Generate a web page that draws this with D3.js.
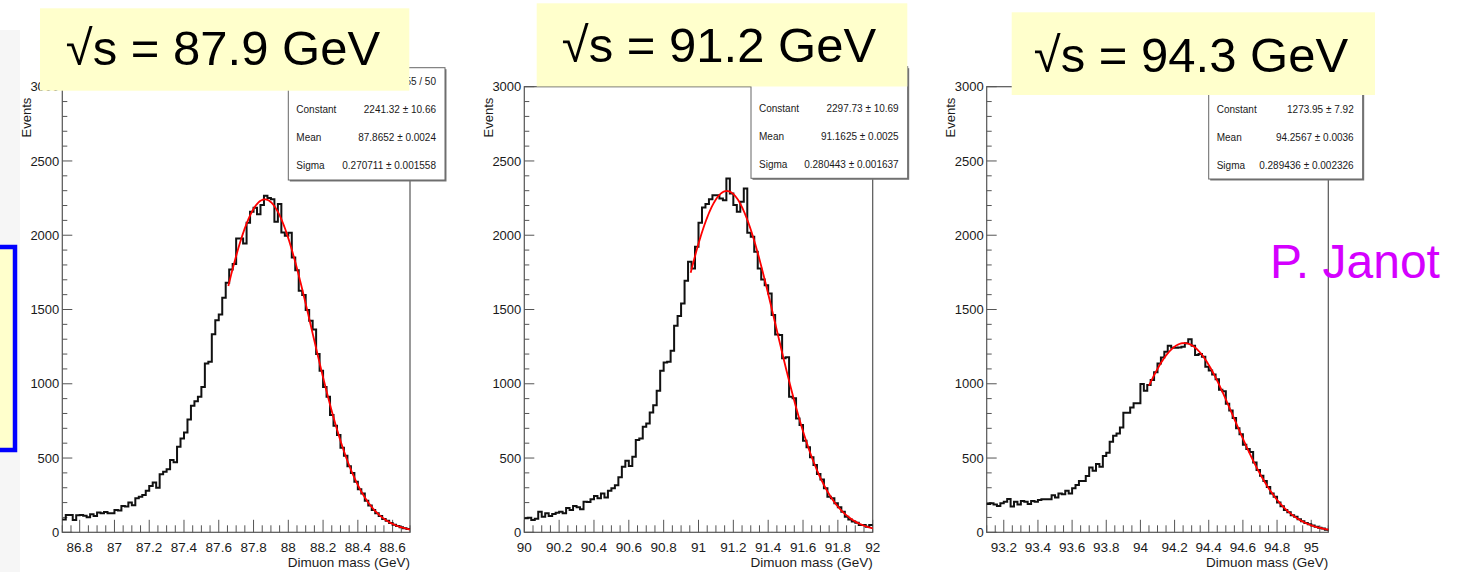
<!DOCTYPE html>
<html><head><meta charset="utf-8">
<script src="https://cdn.jsdelivr.net/npm/d3@7"></script>
<style>
body{margin:0;background:#fff}
svg{display:block}
text{font-family:"Liberation Sans",Arial,Helvetica,sans-serif}
</style>
</head><body>
<svg id="c" width="1472" height="572"></svg>
<script>
// ---------------- data ----------------
const massLo = [86.7, 90.0, 93.1];
const massHi = [88.7, 92.0, 95.1];
const nBins = 100;

const counts879 = [87,116,116,83,114,116,112,101,121,110,
134,128,137,128,128,150,146,177,173,200,
182,229,240,251,280,312,336,300,390,408,
424,487,471,576,632,672,760,852,883,912,
979,1137,1148,1334,1428,1467,1579,1680,1770,1806,
1978,1978,1945,2084,2158,2185,2142,2203,2265,2251,
2243,2091,2210,2018,1996,2016,1850,1765,1626,1597,
1496,1424,1366,1200,1088,979,912,789,718,655,
570,515,445,400,340,290,262,212,180,150,
128,110,90,77,62,50,42,34,27,22];

const counts912 = [94,98,83,92,139,105,128,110,124,132,
139,128,164,150,177,168,155,206,204,222,
244,229,262,235,280,296,316,370,442,482,
446,509,621,632,711,733,807,856,953,1088,
1144,1148,1222,1390,1456,1541,1693,1821,1776,1922,
2084,2187,2210,2243,2270,2270,2247,2236,2382,2281,
2203,2158,2225,2315,2016,1989,1888,1776,1702,1664,
1608,1463,1332,1328,1171,1178,913,902,767,722,
617,572,505,453,392,356,296,240,229,195,
168,139,105,87,72,65,49,49,38,49];

const counts943 = [190,195,188,177,195,206,224,173,206,188,
211,206,190,211,206,217,222,222,222,249,
235,262,256,280,262,296,318,345,345,379,
437,415,460,442,513,536,610,650,666,706,
805,805,841,868,868,998,953,991,1025,1077,
1137,1177,1216,1256,1243,1243,1245,1249,1272,1299,
1256,1193,1200,1182,1115,1090,1062,1030,960,950,
865,820,770,700,660,590,560,540,470,420,
380,345,305,262,240,200,175,150,135,115,
105,88,75,62,55,45,38,30,25,18];

const fitConstant = [2241.32, 2297.73, 1273.95];
const fitMean = [87.8652, 91.1625, 94.2567];
const fitSigma = [0.270711, 0.280443, 0.289436];
const fitStart = [87.655, 90.955, 94.05];

// first row (chi2/ndf) is hidden behind the title boxes except for its value tail in panel 1
const statLabels = ["", "Constant", "Mean", "Sigma"];
const statValues879 = ["55 / 50", "2241.32 \u00B1 10.66", "87.8652 \u00B1 0.0024", "0.270711 \u00B1 0.001558"];
const statValues912 = ["", "2297.73 \u00B1 10.69", "91.1625 \u00B1 0.0025", "0.280443 \u00B1 0.001637"];
const statValues943 = ["", "1273.95 \u00B1 7.92", "94.2567 \u00B1 0.0036", "0.289436 \u00B1 0.002326"];

const titles = ["\u221As = 87.9 GeV", "\u221As = 91.2 GeV", "\u221As = 94.3 GeV"];
const xTickLabels879 = ["86.8","87","87.2","87.4","87.6","87.8","88","88.2","88.4","88.6"];
const xTickLabels912 = ["90","90.2","90.4","90.6","90.8","91","91.2","91.4","91.6","91.8","92"];
const xTickLabels943 = ["93.2","93.4","93.6","93.8","94","94.2","94.4","94.6","94.8","95"];
const yTickLabels = ["0","500","1000","1500","2000","2500","3000"];
const yMax = 3000;
const xTitle = "Dimuon mass (GeV)";
const yTitle = "Events";
const author = "P. Janot";

// ---------------- layout ----------------
const countsAll = [counts879, counts912, counts943];
const statValsAll = [statValues879, statValues912, statValues943];
const xTickAll = [xTickLabels879, xTickLabels912, xTickLabels943];

const frames = [
  {l:62.3, r:410, t:86.7, b:532.3,
   stat:{l:288.3,t:67.7,r:445,b:180},
   tbox:{l:40,t:8.3,r:409.3,b:90.7, cx:223, by:65}},
  {l:524.3, r:872.7, t:86.7, b:532.3,
   stat:{l:751,t:66.7,r:907.7,b:178.3},
   tbox:{l:536.7,t:3.3,r:907.3,b:86.5, cx:719, by:61.7}},
  {l:986.7, r:1328.3, t:86.7, b:532.3,
   stat:{l:1208.7,t:67,r:1362.7,b:179},
   tbox:{l:1011.7,t:12.3,r:1375,b:95, cx:1191, by:71.7}}
];

const svg = d3.select("#c");
const axisCol = "#555";
const textCol = "#1a1a1a";
const titleFill = "#FFFFCC";

// left edge decorations
svg.append("rect").attr("x",0).attr("y",30).attr("width",20).attr("height",542).attr("fill","#f6f6f6");
svg.append("rect").attr("x",-10).attr("y",247).attr("width",25).attr("height",203)
  .attr("fill",titleFill).attr("stroke","#0000FF").attr("stroke-width",4.5);

frames.forEach((f, p) => {
  const g = svg.append("g");
  const x = d3.scaleLinear().domain([massLo[p], massHi[p]]).range([f.l, f.r]);
  const y = d3.scaleLinear().domain([0, yMax]).range([f.b, f.t]);

  // frame
  g.append("rect").attr("x",f.l).attr("y",f.t).attr("width",f.r-f.l).attr("height",f.b-f.t)
    .attr("fill","none").attr("stroke",axisCol).attr("stroke-width",1.2);

  // y ticks
  const yMinor = d3.range(0, yMax+1, 100);
  g.selectAll(".ym").data(yMinor).join("line")
    .attr("x1",f.l).attr("x2",d=> f.l + (d%500===0 ? 10 : 5))
    .attr("y1",d=>y(d)).attr("y2",d=>y(d))
    .attr("stroke",axisCol).attr("stroke-width",1);
  g.selectAll(".yl").data(yTickLabels).join("text")
    .attr("x",f.l-3).attr("y",d=>y(+d)).attr("dy","0.35em")
    .attr("text-anchor","end").attr("font-size",13).attr("fill",textCol).text(d=>d);

  // x ticks
  const xm = d3.range(0, Math.round((massHi[p]-massLo[p])/0.05)+1).map(i => massLo[p] + i*0.05);
  g.selectAll(".xm").data(xm).join("line")
    .attr("x1",d=>x(d)).attr("x2",d=>x(d)).attr("y1",f.b)
    .attr("y2",d=>{ const r = Math.round(d*100)%20; return f.b - (r===0 ? 12.5 : 7); })
    .attr("stroke",axisCol).attr("stroke-width",1);
  g.selectAll(".xl").data(xTickAll[p]).join("text")
    .attr("x",d=>x(+d)).attr("y",f.b+20).attr("text-anchor","middle")
    .attr("font-size",13.5).attr("fill",textCol).text(d=>d);

  // axis titles
  g.append("text").attr("x",f.r).attr("y",567).attr("text-anchor","end")
    .attr("font-size",13.5).attr("fill",textCol).text(xTitle);
  g.append("text").attr("transform",`translate(${f.l-31.5},${f.t+11}) rotate(-90)`)
    .attr("text-anchor","end").attr("font-size",13).attr("fill",textCol).text(yTitle);

  // histogram
  const counts = countsAll[p];
  const w = (massHi[p]-massLo[p])/nBins;
  const pts = counts.map((c,i)=>[massLo[p]+i*w, c]);
  pts.push([massHi[p], counts[counts.length-1]]);
  const line = d3.line().x(d=>x(d[0])).y(d=>y(d[1])).curve(d3.curveStepAfter);
  g.append("path").attr("d",line(pts)).attr("fill","none")
    .attr("stroke","#111").attr("stroke-width",2);

  // fit
  const fx = d3.range(0, 201).map(i => fitStart[p] + (massHi[p]-fitStart[p])*i/200);
  const fpts = fx.map(v => [v, fitConstant[p]*Math.exp(-0.5*Math.pow((v-fitMean[p])/fitSigma[p],2))]);
  g.append("path").attr("d", d3.line().x(d=>x(d[0])).y(d=>y(d[1]))(fpts))
    .attr("fill","none").attr("stroke","#FF0000").attr("stroke-width",1.8);

  // stat box
  const s = f.stat;
  g.append("rect").attr("x",s.l+1.5).attr("y",s.t+1.5).attr("width",s.r-s.l).attr("height",s.b-s.t).attr("fill","#777");
  g.append("rect").attr("x",s.l).attr("y",s.t).attr("width",s.r-s.l).attr("height",s.b-s.t)
    .attr("fill","#fff").attr("stroke","#666").attr("stroke-width",1);
  const rowH = (s.b-s.t)/4;
  statLabels.forEach((lab,i)=>{
    if (lab) g.append("text").attr("x",s.l+8).attr("y",s.t+rowH*(i+0.5)).attr("dy","0.35em")
      .attr("font-size",10).attr("fill",textCol).text(lab);
    if (statValsAll[p][i]) g.append("text").attr("x",s.r-9).attr("y",s.t+rowH*(i+0.5)).attr("dy","0.35em")
      .attr("text-anchor","end").attr("font-size",10).attr("fill",textCol).text(statValsAll[p][i]);
  });
});

// title boxes on top
frames.forEach((f,p)=>{
  const t = f.tbox;
  svg.append("rect").attr("x",t.l).attr("y",t.t).attr("width",t.r-t.l).attr("height",t.b-t.t).attr("fill",titleFill);
  svg.append("text").attr("x",t.cx).attr("y",t.by).attr("text-anchor","middle")
    .attr("font-size",49).attr("fill","#000").text(titles[p]);
});

svg.append("text").attr("x",1270).attr("y",278).attr("font-size",48).attr("fill","#D400FF").text(author);
</script>
</body></html>
